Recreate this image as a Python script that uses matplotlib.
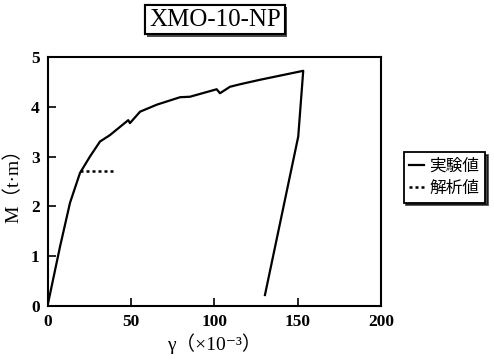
import matplotlib
matplotlib.use('Agg')
import matplotlib.pyplot as plt
import matplotlib.patheffects as pe

# data
gamma_test = [0, 7.2, 13.2, 19.2, 25.2, 31.2, 37.2, 48.2, 49.2, 55.3, 65.3, 79.3, 85.3,
              101.3, 103.3, 109.3, 115.3, 127.3, 153.3, 150.3, 130.3]
m_test = [0.05, 1.19, 2.07, 2.67, 3.0, 3.30, 3.43, 3.73, 3.67, 3.90, 4.04, 4.19, 4.20,
          4.35, 4.27, 4.40, 4.45, 4.54, 4.72, 3.40, 0.22]
gamma_calc = [19.2, 39.2]
m_calc = [2.70, 2.70]
xticks = [0, 50, 100, 150, 200]
yticks = [0, 1, 2, 3, 4, 5]

serif = ['Liberation Serif', 'Noto Sans CJK JP', 'DejaVu Serif']
jp = ['Noto Sans CJK JP', 'DejaVu Sans']

fig = plt.figure(figsize=(4.94, 3.59), dpi=100)
ax = fig.add_axes([0.0972, 0.1476, 0.674, 0.694])

ax.plot(gamma_test, m_test, color='k', lw=1.6, label='実験値')
ax.plot(gamma_calc, m_calc, color='k', lw=1.8, ls=(0, (1.2, 1.2)), label='解析値')

ax.set_xlim(0, 200)
ax.set_ylim(0, 5)
ax.set_xticks(xticks)
ax.set_yticks(yticks)
ax.tick_params(direction='in', length=6, width=1.2, pad=6)
for lab in ax.get_xticklabels() + ax.get_yticklabels():
    lab.set_family(serif)
    lab.set_fontsize(12.5)
    lab.set_fontweight('bold')
for s in ax.spines.values():
    s.set_linewidth(1.5)

ax.set_xlabel('γ（×10⁻³）', family=serif, fontsize=14, labelpad=2)
ax.set_ylabel('M（t·m）', family=serif, fontsize=14, labelpad=6)

t = fig.text(0.435, 0.945, 'XMO-10-NP', family=serif, fontsize=18,
             ha='center', va='center',
             bbox=dict(boxstyle='square,pad=0.15', fc='white', ec='k', lw=1.5))
t.get_bbox_patch().set_path_effects([
    pe.withSimplePatchShadow(offset=(1.5, -1.5), shadow_rgbFace='k', alpha=0.7),
    pe.Normal()])

leg = fig.legend(loc='upper left', bbox_to_anchor=(0.8, 0.6),
                 prop={'family': jp, 'size': 12}, handlelength=0.9,
                 handletextpad=0.3, borderpad=0.35, labelspacing=0.3,
                 fancybox=False, edgecolor='k',
                 shadow={'color': 'k', 'alpha': 0.7})
leg.get_frame().set_linewidth(1.3)

fig.savefig('out.png', dpi=100)
